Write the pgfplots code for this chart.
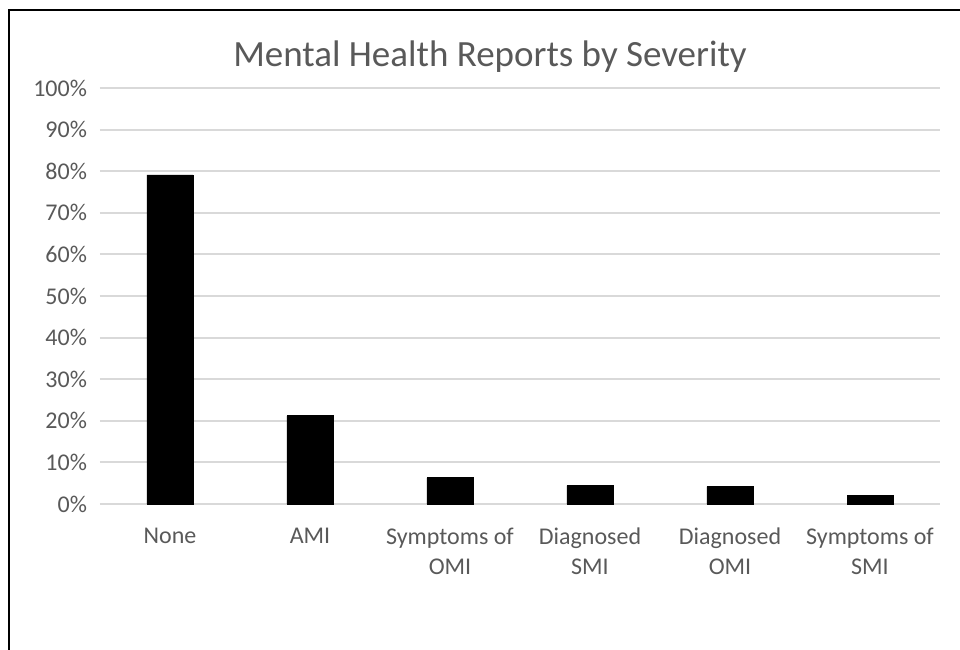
\documentclass[border=0pt]{standalone}
\usepackage{pgfplots}
\pgfplotsset{compat=1.18}
\usepackage{fontspec}
\setmainfont{Carlito}
\definecolor{gridgray}{RGB}{217,217,217}
\definecolor{txtgray}{RGB}{89,89,89}
\begin{document}
\begin{tikzpicture}
\useasboundingbox (0,0) rectangle (480pt,324.5pt);
\draw[line width=1.2pt,black] (4.5pt,-2pt) -- (4.5pt,319.5pt) -- (482pt,319.5pt);
\begin{axis}[
  at={(50pt,72.5pt)}, anchor=south west,
  scale only axis,
  width=420pt, height=208pt,
  xmin=-0.5, xmax=5.5,
  ymin=0, ymax=100,
  axis line style={draw=none},
  major tick length=0pt,
  ytick={0,10,...,100},
  yticklabels={0\%,10\%,20\%,30\%,40\%,50\%,60\%,70\%,80\%,90\%,100\%},
  xtick={0,1,2,3,4,5},
  xticklabels={None,AMI,Symptoms of\\OMI,Diagnosed\\SMI,Diagnosed\\OMI,Symptoms of\\SMI},
  xticklabel style={align=center, font=\fontsize{12}{15}\selectfont, text=txtgray, yshift=-8.5pt},
  yticklabel style={font=\fontsize{12}{15}\selectfont, text=txtgray, xshift=-3pt},
  ymajorgrids,
  grid style={gridgray, line width=1pt},
  title={Mental Health Reports by Severity},
  title style={font=\fontsize{18.5}{22}\selectfont, text=txtgray, at={(0.5,1)}, xshift=-15pt, yshift=-2pt},
  clip=false,
]
\addplot[ybar, bar width=23pt, fill=black, draw=black] coordinates {
  (0,79.1) (1,21.2) (2,6.3) (3,4.4) (4,4.2) (5,2.0)
};
\end{axis}
\end{tikzpicture}
\end{document}
